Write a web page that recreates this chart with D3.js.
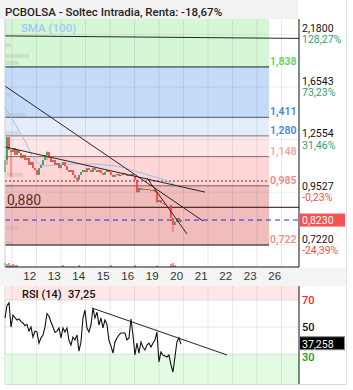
<!doctype html>
<html>
  <head>
    <script src="https://cdn.jsdelivr.net/npm/d3@7/dist/d3.min.js"></script>
    <style>
      body, html {
        margin: 0;
        background: #fff;
      }
      svg {
        display: block;
        font-family: Roboto, "Noto Sans", sans-serif;
      }
      .xaxis text {
        font-size: 11.5px;
        fill: #333;
      }
    </style>
  </head>
  <body>
    <svg width="353" height="390"></svg>
    <script>
      // --- data ---
      var days = ["12", "13", "14", "15", "16", "19", "20", "21", "22", "23", "26"];

      // candles: one every ~0.082 day, opens follow the previous close
      var candleT0 = -0.2857, candleDt = 0.0816;
      var firstOpen = 1.059;
      var closes = [1.128, 1.272, 1.189, 1.176, 1.201, 1.158, 1.189, 1.170, 1.140, 1.158,
        1.128, 1.140, 1.099, 1.116, 1.081, 1.070, 1.043, 1.081, 1.099, 1.128,
        1.158, 1.176, 1.140, 1.116, 1.128, 1.099, 1.110, 1.081, 1.099, 1.116,
        1.093, 1.070, 1.059, 1.070, 1.043, 1.026, 1.016, 1.043, 1.059, 1.070,
        1.059, 1.081, 1.070, 1.059, 1.081, 1.070, 1.059, 1.070, 1.054, 1.043,
        1.059, 1.070, 1.059, 1.043, 1.032, 1.043, 1.048, 1.037, 1.043, 1.054,
        1.048, 1.037, 1.043, 1.048, 1.037, 1.016, 0.953, 0.974, 0.964, 0.969,
        0.964, 0.969, 0.964, 0.958, 0.964, 0.953, 0.905, 0.914, 0.900, 0.895,
        0.891, null, null, 0.832, 0.802, 0.815, 0.832, 0.815, 0.823];
      var wicks = [[1, 1.272, 1.099], [3, 1.190, 1.032], [21, 1.180, 1.128], [36, 1.030, 1.005],
        [66, 1.020, 0.950], [76, 0.953, 0.900], [84, 0.832, 0.773]];

      // SMA(100) sampled at candle indices
      var smaIdx = [0, 5, 10, 15, 20, 25, 30, 35, 40, 45, 50, 55, 60, 65, 70, 75, 80, 85, 88];
      var smaVals = [1.490, 1.362, 1.246, 1.128, 1.093, 1.099, 1.104, 1.104, 1.104, 1.104,
        1.099, 1.093, 1.081, 1.064, 1.048, 1.032, 1.016, 0.989, 0.974];

      // volume by price (left) and volume bars (bottom)
      var profPrices = [2.063, 1.947, 1.877, 1.587, 1.428, 1.300, 1.043, 0.983, 0.789, 0.7295];
      var profVols = [5, 23, 12, 5, 20, 13, 17, 7, 13, 7];
      var volIdx = [0, 1, 2, 3, 4, 5, 6, 29, 37, 53, 65, 76, 83, 84, 85];
      var volVals = [4, 3, 4, 2, 3, 2, 2, 2, 2, 2, 2, 1.5, 3, 4, 2];

      // horizontal levels
      var levels = [1.838, 1.411, 1.280, 1.148, 0.985, 0.722];
      var levelLabels = ["1,838", "1,411", "1,280", "1,148", "0,985", "0,722"];
      var keyLevel = 0.880, keyLabel = "0,880";
      var dottedLevel = 1.010;
      var lastPrice = 0.823, lastLabel = "0,8230";

      // trend lines [t1, p1, t2, p2]
      var trendLines = [[-0.286, 2.163, 11.71, 2.135], [-0.286, 1.663, 7.796, 0.819],
        [-0.286, 1.208, 7.878, 0.953], [5.51, 1.026, 7.143, 0.765]];

      // right axis
      var priceTicks = [2.18, 1.6543, 1.2554, 0.9527, 0.722];
      var priceTickLabels = ["2,1800", "1,6543", "1,2554", "0,9527", "0,7220"];
      var pctLabels = ["128,27%", "73,23%", "31,46%", "-0,23%", "-24,39%"];

      // RSI(14) aligned with candles
      var rsi = [56.7, 66, 68, 50, 58.9, 57, 55.2, 56, 54, 53,
        51, 52, 47, 50, 42.6, 47, 46.3, 38.1, 42, 44.1,
        50, 60, 58, 53.7, 50, 46, 47, 49.3, 41.9, 49.3,
        46.3, 49.3, 40, 36.7, 42.6, 40.4, 44.1, 32.2, 38.9, 56.7,
        62.6, 49.3, 46.3, 51.5, 64.1, 56.7, 61.1, 51.5, 56.7, 49.3,
        55.2, 52, 40, 36, 30.7, 38.9, 41.9, 44.1, 45.6, 45.6,
        45.6, 40.4, 41.9, 56, 44.1, 29.3, 38.1, 30.7, 38.9, 35,
        33, 36.7, 38.1, 35.2, 38, 40.4, 46.3, 24.1, 31.5, 29.3,
        28.5, 27.8, 29.3, 21.9, 16.7, 27.8, 38.9, 42, 37.25];
      var rsiTrend = [3.265, 64.1, 8.776, 29.3];
      var rsiTicks = [70, 50, 30];

      // --- scales ---
      var L = 5, R = 299;
      var x = d3.scaleLinear().domain([-0.2857, 11.714]).range([L, R]);
      var y = d3.scaleLog().domain([0.6433, 2.3637]).range([267, 19]);
      var yr = d3.scaleLinear().domain([7.8, 80.4]).range([384, 286]);
      var profW = d3.scaleLinear().domain([0, 23]).range([0, 23]);
      var volH = d3.scaleLinear().domain([0, 5]).range([0, 5]);
      var tOf = function (i) { return candleT0 + i * candleDt; };
      var bandEnd = 269;

      var svg = d3.select("svg");

      // title bar
      svg.append("rect").attr("x", 0).attr("y", 0).attr("width", 298).attr("height", 19).attr("fill", "#f2f2f2");
      svg.append("text").attr("x", 5).attr("y", 16).attr("font-size", "11.5px").attr("font-weight", 500)
        .attr("fill", "#222").text("PCBOLSA - Soltec Intradia, Renta: -18,67%");

      // bands
      var bandColors = ["#d5f7d5", "#c5dbfa", "#e4eefa", "#ffe6e6", "#ffd5d5", "#f0bcbc"];
      var bandTops = [y.domain()[1]].concat(levels.slice(0, 5));
      svg.append("g").selectAll("rect").data(bandTops).enter().append("rect")
        .attr("x", L).attr("width", bandEnd - L)
        .attr("y", d => y(d))
        .attr("height", (d, i) => y(levels[i]) - y(d))
        .attr("fill", (d, i) => bandColors[i]);

      // grid
      var grid = svg.append("g");
      grid.selectAll("line.v").data(d3.range(0, 12)).enter().append("line")
        .attr("x1", d => x(d)).attr("x2", d => x(d)).attr("y1", 19).attr("y2", 267)
        .attr("stroke", "rgba(90,90,130,0.14)");
      grid.selectAll("line.h").data(priceTicks).enter().append("line")
        .attr("x1", L).attr("x2", R).attr("y1", d => y(d)).attr("y2", d => y(d))
        .attr("stroke", "rgba(90,90,90,0.10)");

      // volume profile
      svg.append("g").selectAll("rect").data(profPrices).enter().append("rect")
        .attr("x", L + 1).attr("y", d => y(d) - 2).attr("height", 4)
        .attr("width", (d, i) => profW(profVols[i]))
        .attr("fill", "rgba(175,175,175,0.3)");

      // level lines and labels
      var levelStroke = ["#222", "#555", "#777", "#8a6868", "#8a5a5a", "#111"];
      var levelColor = ["#5bd35b", "#3f86e6", "#3f86e6", "#f5a3a3", "#f08585", "#e99191"];
      svg.append("g").selectAll("line").data(levels).enter().append("line")
        .attr("x1", L).attr("x2", bandEnd).attr("y1", d => y(d)).attr("y2", d => y(d))
        .attr("stroke", (d, i) => levelStroke[i]).attr("stroke-width", 1);
      svg.append("g").selectAll("text").data(levels).enter().append("text")
        .attr("x", bandEnd + 1).attr("y", d => y(d) - 2)
        .attr("font-size", "10.5px").attr("font-weight", 600)
        .attr("fill", (d, i) => levelColor[i]).text((d, i) => levelLabels[i]);

      svg.append("line").attr("x1", L).attr("x2", bandEnd).attr("y1", y(dottedLevel)).attr("y2", y(dottedLevel))
        .attr("stroke", "#7a2a2a").attr("stroke-dasharray", "2,2");
      svg.append("line").attr("x1", L).attr("x2", R).attr("y1", y(keyLevel)).attr("y2", y(keyLevel))
        .attr("stroke", "#2a0c0c");
      svg.append("text").attr("x", 7).attr("y", y(keyLevel) - 2).attr("font-size", "14px")
        .attr("fill", "#5a2c2c").text(keyLabel);
      svg.append("line").attr("x1", L).attr("x2", R).attr("y1", y(lastPrice)).attr("y2", y(lastPrice))
        .attr("stroke", "#2a2ad8").attr("stroke-dasharray", "5,4");

      // SMA
      svg.append("path").datum(smaIdx)
        .attr("fill", "none").attr("stroke", "#90c2f0").attr("stroke-width", 1)
        .attr("d", d3.line().curve(d3.curveMonotoneX).x(d => x(tOf(d))).y((d, i) => y(smaVals[i])));
      svg.append("text").attr("x", 21).attr("y", 32).attr("font-size", "11.5px").attr("font-weight", 500)
        .attr("fill", "#9ccaf4").text("SMA (100)");

      // candles
      var candles = [];
      var prev = firstOpen;
      closes.forEach(function (c, i) {
        if (c === null) return;
        var w = wicks.find(d => d[0] === i);
        candles.push({i: i, o: prev, c: c,
          h: w ? w[1] : Math.max(prev, c), l: w ? w[2] : Math.min(prev, c)});
        prev = c;
      });
      var cg = svg.append("g");
      candles.forEach(function (d) {
        var col = d.c >= d.o ? "#3a9660" : "#ff3d3d";
        var cx = x(tOf(d.i));
        cg.append("line").attr("x1", cx).attr("x2", cx).attr("y1", y(d.h)).attr("y2", y(d.l))
          .attr("stroke", col).attr("stroke-width", 0.8);
        cg.append("rect").attr("x", cx - 0.8).attr("width", 1.6)
          .attr("y", y(Math.max(d.o, d.c)))
          .attr("height", Math.max(1, Math.abs(y(d.o) - y(d.c))))
          .attr("fill", col);
      });

      // trend lines
      svg.append("g").selectAll("line").data(trendLines).enter().append("line")
        .attr("x1", d => x(d[0])).attr("y1", d => y(d[1]))
        .attr("x2", d => x(d[2])).attr("y2", d => y(d[3]))
        .attr("stroke", "#2e2222").attr("stroke-width", 1);

      // volume bars
      svg.append("g").selectAll("rect").data(volIdx).enter().append("rect")
        .attr("x", d => x(tOf(d)) - 0.6).attr("width", 1.2)
        .attr("y", (d, i) => 267 - volH(volVals[i])).attr("height", (d, i) => volH(volVals[i]))
        .attr("fill", d => {
          var c = candles.find(e => e.i === d);
          return c && c.c >= c.o ? "#3a9660" : "#ff3d3d";
        });

      // frame lines of price panel
      svg.append("line").attr("x1", L).attr("x2", R).attr("y1", 267).attr("y2", 267).attr("stroke", "#111");
      svg.append("line").attr("x1", R).attr("x2", R).attr("y1", 19).attr("y2", 267).attr("stroke", "#111");
      svg.append("line").attr("x1", L).attr("x2", L).attr("y1", 19).attr("y2", 384).attr("stroke", "#ccc");

      // right price axis
      var ra = svg.append("g");
      ra.selectAll("text.v").data(priceTicks).enter().append("text")
        .attr("x", 302).attr("y", d => y(d) - 2.5).attr("font-size", "10.5px").attr("fill", "#111")
        .text((d, i) => priceTickLabels[i]);
      ra.selectAll("text.p").data(priceTicks).enter().append("text")
        .attr("x", 302).attr("y", d => y(d) + 9).attr("font-size", "10.5px")
        .attr("fill", (d, i) => pctLabels[i][0] === "-" ? "#ff4a4a" : "#2f9e70")
        .text((d, i) => pctLabels[i]);
      ra.append("rect").attr("x", 300).attr("y", y(lastPrice) - 6.5).attr("width", 45).attr("height", 13)
        .attr("fill", "#f55353");
      ra.append("text").attr("x", 302).attr("y", y(lastPrice) + 4).attr("font-size", "10.5px")
        .attr("fill", "#fff").text(lastLabel);

      // x axis strip
      svg.append("rect").attr("x", 0).attr("y", 268).attr("width", 346).attr("height", 18).attr("fill", "#f4f4f4");
      var xa = svg.append("g").attr("class", "xaxis").attr("transform", "translate(0,268)")
        .call(d3.axisBottom(x).tickValues(days.map((d, i) => i + 0.7))
          .tickFormat((d, i) => days[i]).tickSize(0).tickPadding(4));
      xa.select(".domain").remove();

      // RSI panel
      var rp = svg.append("g");
      rp.append("rect").attr("x", L).attr("y", 286).attr("width", R - L).attr("height", yr(70) - 286).attr("fill", "#ffe7e7");
      rp.append("rect").attr("x", L).attr("y", yr(30)).attr("width", R - L).attr("height", 384 - yr(30)).attr("fill", "#e2fbe2");
      rp.selectAll("line.v").data(d3.range(0, 12)).enter().append("line")
        .attr("x1", d => x(d)).attr("x2", d => x(d)).attr("y1", 286).attr("y2", 384)
        .attr("stroke", "rgba(0,0,0,0.08)");
      rp.selectAll("line.h").data(rsiTicks).enter().append("line")
        .attr("x1", L).attr("x2", R).attr("y1", d => yr(d)).attr("y2", d => yr(d))
        .attr("stroke", "rgba(0,0,0,0.10)");
      rp.append("path").datum(rsi)
        .attr("fill", "none").attr("stroke", "#111").attr("stroke-width", 1.1)
        .attr("d", d3.line().x((d, i) => x(tOf(i))).y(d => yr(d)));
      rp.append("line").attr("x1", x(rsiTrend[0])).attr("y1", yr(rsiTrend[1]))
        .attr("x2", x(rsiTrend[2])).attr("y2", yr(rsiTrend[3])).attr("stroke", "#222");
      rp.append("text").attr("x", 22).attr("y", 298).attr("font-size", "11px").attr("font-weight", 500)
        .attr("fill", "#111").text("RSI (14)");
      rp.append("text").attr("x", 68).attr("y", 298).attr("font-size", "11px").attr("font-weight", 500)
        .attr("fill", "#111").text("37,25");
      rp.append("line").attr("x1", R).attr("x2", R).attr("y1", 286).attr("y2", 384).attr("stroke", "#111");
      rp.append("line").attr("x1", L).attr("x2", 346).attr("y1", 384.5).attr("y2", 384.5).attr("stroke", "#ddd");
      svg.append("line").attr("x1", 346.5).attr("x2", 346.5).attr("y1", 0).attr("y2", 385).attr("stroke", "#e2e2e2");

      var rsiColors = ["#ff2020", "#111", "#1b9a1b"];
      rp.selectAll("text.t").data(rsiTicks).enter().append("text")
        .attr("x", 302).attr("y", d => yr(d) + (d === 30 ? 7 : 4)).attr("font-size", "11px").attr("font-weight", 500)
        .attr("fill", (d, i) => rsiColors[i]).text(d => d);
      rp.append("rect").attr("x", 299.5).attr("y", yr(37.258) - 7.5).attr("width", 45).attr("height", 13)
        .attr("fill", "#000").attr("stroke", "#888");
      rp.append("text").attr("x", 302).attr("y", yr(37.258) + 3.5).attr("font-size", "10.5px")
        .attr("fill", "#fff").text("37,258");
    </script>
  </body>
</html>
